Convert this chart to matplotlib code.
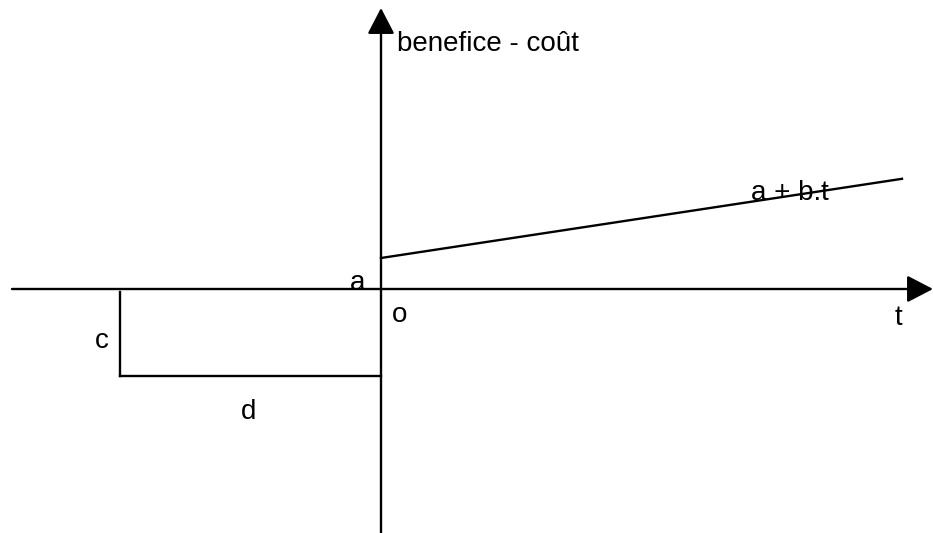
import matplotlib.pyplot as plt

# schematic: origin at (0, 0), units roughly in pixels
a = 31            # intercept of the benefit line
b = 0.152         # slope
t_end = 521       # last t drawn for the line
c = 87            # depth of the initial cost
d = 261           # duration of the cost

x_min, x_max = -369, 552
y_min, y_max = -244, 281

t_line = [0, t_end]
y_line = [a + b * t for t in t_line]

plt.rcParams['font.family'] = ['Liberation Sans', 'DejaVu Sans']

fig = plt.figure(figsize=(9.33, 5.33), dpi=100)
ax = fig.add_axes([0, 0, 1, 1])
ax.set_xlim(-381, 552)
ax.set_ylim(-244, 289)
ax.axis('off')

arrow = dict(arrowstyle='-|>,head_length=1.0,head_width=0.52', mutation_scale=16,
             lw=1.7, color='black', shrinkA=0, shrinkB=0)
# axes with arrowheads
ax.annotate('', xy=(x_max, 0), xytext=(x_min, 0), arrowprops=arrow)
ax.annotate('', xy=(0, y_max), xytext=(0, y_min), arrowprops=arrow)

# benefit line a + b.t
ax.plot(t_line, y_line, color='black', lw=1.7)

# cost bracket
ax.plot([-d, -d], [-3, -c], color='black', lw=1.7)
ax.plot([-d, 0], [-c, -c], color='black', lw=1.7)

fs = 20
ax.text(16, 245, 'benefice - coût', fontsize=fs, ha='left', va='center')
ax.text(-23, 6, 'a', fontsize=fs, ha='center', va='center')
ax.text(19, -26, 'o', fontsize=fs, ha='center', va='center')
ax.text(517, -29, 't', fontsize=fs, ha='center', va='center')
ax.text(-279, -52, 'c', fontsize=fs, ha='center', va='center')
ax.text(-132, -123, 'd', fontsize=fs, ha='center', va='center')
ax.text(409, 96, 'a + b.t', fontsize=fs, ha='center', va='center')

fig.savefig('out.png', dpi=100)
